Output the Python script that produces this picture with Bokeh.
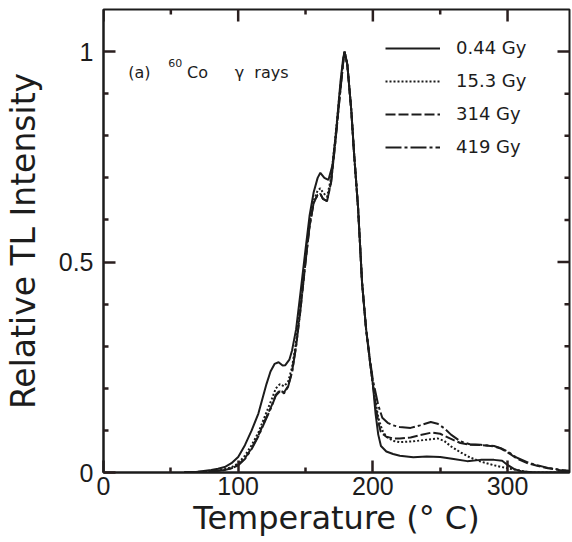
import numpy as np
from bokeh.plotting import figure
from bokeh.models import Range1d, FixedTicker, Legend, LegendItem, Label
from bokeh.embed import file_html
from bokeh.resources import INLINE

# ---------------- data ----------------
t_044 = [60, 70, 80, 85, 90, 95, 100, 105, 110, 115, 118, 121, 124, 127, 130, 133, 135,
         138, 140, 143, 146, 150, 153, 156, 159, 161, 164, 167, 170, 173, 176, 178, 179,
         181, 184, 186, 189, 192, 195, 198, 200, 202, 204, 206, 210, 215, 220, 230, 240,
         250, 260, 270, 280, 290, 296, 300, 305, 310, 320, 346]
i_044 = [0.0, 0.002, 0.006, 0.009, 0.013, 0.022, 0.037, 0.065, 0.10, 0.14, 0.175, 0.21,
         0.24, 0.258, 0.262, 0.254, 0.255, 0.268, 0.29, 0.34, 0.42, 0.53, 0.61, 0.665,
         0.70, 0.712, 0.70, 0.695, 0.73, 0.82, 0.93, 0.985, 1.0, 0.97, 0.86, 0.76, 0.63,
         0.45, 0.34, 0.26, 0.21, 0.14, 0.09, 0.063, 0.05, 0.044, 0.04, 0.036, 0.038, 0.037,
         0.032, 0.027, 0.03, 0.03, 0.028, 0.018, 0.008, 0.003, 0.0, 0.0]

t_153 = [60, 75, 85, 90, 95, 100, 105, 110, 115, 120, 125, 128, 131, 134, 137, 140, 143,
         146, 150, 153, 156, 159, 161, 163, 166, 169, 172, 175, 178, 179, 181, 184, 186,
         189, 192, 195, 198, 200, 202, 204, 207, 210, 215, 220, 230, 240, 248, 253, 258,
         265, 272, 280, 290, 300, 310, 315, 320, 346]
i_153 = [0.0, 0.002, 0.005, 0.008, 0.012, 0.022, 0.04, 0.065, 0.095, 0.135, 0.175, 0.2,
         0.21, 0.205, 0.215, 0.25, 0.31, 0.39, 0.51, 0.59, 0.645, 0.67, 0.675, 0.665,
         0.655, 0.70, 0.79, 0.89, 0.98, 1.0, 0.97, 0.86, 0.76, 0.63, 0.45, 0.34, 0.26,
         0.21, 0.17, 0.13, 0.10, 0.085, 0.075, 0.072, 0.074, 0.078, 0.081, 0.075, 0.062,
         0.048, 0.036, 0.026, 0.017, 0.01, 0.004, 0.001, 0.0, 0.0]

t_314 = [60, 75, 85, 90, 95, 100, 105, 110, 115, 120, 125, 128, 131, 134, 137, 140, 143,
         146, 150, 153, 156, 159, 161, 163, 166, 169, 172, 175, 178, 179, 181, 184, 186,
         189, 192, 195, 198, 200, 202, 204, 206, 210, 215, 220, 228, 235, 244, 250, 256,
         260, 265, 272, 280, 290, 295, 300, 307, 315, 322, 330, 340, 346]
i_314 = [0.0, 0.002, 0.004, 0.006, 0.01, 0.018, 0.034, 0.058, 0.088, 0.125, 0.16, 0.185,
         0.195, 0.19, 0.205, 0.24, 0.30, 0.38, 0.50, 0.585, 0.64, 0.66, 0.662, 0.65,
         0.645, 0.69, 0.78, 0.88, 0.975, 1.0, 0.97, 0.86, 0.76, 0.63, 0.45, 0.34, 0.26,
         0.21, 0.16, 0.12, 0.095, 0.085, 0.081, 0.081, 0.083, 0.089, 0.095, 0.092, 0.083,
         0.077, 0.07, 0.066, 0.065, 0.062, 0.057, 0.048, 0.033, 0.022, 0.016, 0.01, 0.005,
         0.003]

t_419 = [60, 75, 85, 90, 95, 100, 105, 110, 115, 120, 125, 128, 131, 134, 137, 140, 143,
         146, 150, 153, 156, 159, 161, 163, 166, 169, 172, 175, 178, 179, 181, 184, 186,
         189, 192, 195, 198, 200, 202, 204, 207, 211, 215, 220, 228, 235, 243, 248, 253,
         258, 265, 272, 280, 290, 295, 300, 307, 315, 322, 330, 340, 346]
i_419 = [0.0, 0.002, 0.004, 0.006, 0.01, 0.017, 0.032, 0.056, 0.086, 0.122, 0.158, 0.183,
         0.193, 0.188, 0.203, 0.238, 0.30, 0.38, 0.50, 0.585, 0.64, 0.66, 0.662, 0.65,
         0.645, 0.69, 0.78, 0.88, 0.975, 1.0, 0.97, 0.86, 0.76, 0.63, 0.45, 0.34, 0.265,
         0.22, 0.19, 0.16, 0.13, 0.118, 0.112, 0.108, 0.106, 0.112, 0.12, 0.116, 0.105,
         0.09, 0.074, 0.067, 0.066, 0.063, 0.058, 0.05, 0.035, 0.024, 0.017, 0.011, 0.006,
         0.004]

series_labels = ["0.44 Gy", "15.3 Gy", "314 Gy", "419 Gy"]
x_ticks = [0, 100, 200, 300]
x_minor = [50, 150, 250]
y_ticks = [0, 0.5, 1]
y_tick_labels = ["0", "0.5", "1"]
y_minor = [0.1, 0.2, 0.3, 0.4, 0.6, 0.7, 0.8, 0.9]
x_title = "Temperature (° C)"
y_title = "Relative TL Intensity"
X_MAX, Y_MAX = 346, 1.1

# ---------------- figure ----------------
INK = "#1c1c1c"
TICK = "#2a1f1f"
W, H = 572, 542
BL, BR, BT, BB = 100, 3, 9, 70
MAJ, MIN = 12, 5
p = figure(width=W, height=H, output_backend="svg", toolbar_location=None,
           x_range=Range1d(0, X_MAX), y_range=Range1d(0, Y_MAX),
           min_border_left=BL, min_border_right=BR, min_border_top=BT, min_border_bottom=BB)
p.xgrid.visible = False
p.ygrid.visible = False
p.outline_line_color = INK
p.outline_line_width = 2

for ax, ticks, minor in ((p.xaxis[0], x_ticks, x_minor), (p.yaxis[0], y_ticks, y_minor)):
    ax.ticker = FixedTicker(ticks=ticks, minor_ticks=minor)
    ax.axis_line_color = INK
    ax.axis_line_width = 2
    ax.major_tick_in = MAJ
    ax.major_tick_out = 0
    ax.minor_tick_in = MIN
    ax.minor_tick_out = 0
    ax.major_tick_line_color = TICK
    ax.major_tick_line_width = 2.5
    ax.minor_tick_line_color = TICK
    ax.minor_tick_line_width = 2.5
    ax.major_label_text_font = "Liberation Sans"
    ax.major_label_text_font_size = "25px"
    ax.major_label_text_color = INK
    ax.axis_label_text_font = "DejaVu Sans"
    ax.axis_label_text_font_style = "normal"
    ax.axis_label_text_color = INK
p.yaxis[0].major_label_overrides = {v: s for v, s in zip(y_ticks, y_tick_labels)}
p.xaxis[0].major_label_overrides = {v: str(v) for v in x_ticks}
p.xaxis[0].axis_label = x_title
p.yaxis[0].axis_label = y_title
p.xaxis[0].axis_label_text_font_size = "32px"
p.yaxis[0].axis_label_text_font_size = "33px"
p.xaxis[0].major_label_standoff = 4
p.yaxis[0].major_label_standoff = 10
p.xaxis[0].axis_label_standoff = 1
p.yaxis[0].axis_label_standoff = 13

# inward tick marks on the top and right edges, drawn as small filled bars
# (lengths in px converted to data units; centred on the frame edge, the outer half is clipped)
dx = X_MAX / (W - BL - BR)
dy = Y_MAX / (H - BT - BB)
for xs, L in ((x_ticks, MAJ), (x_minor, MIN)):
    xs = np.array(xs, float)
    p.rect(x=xs, y=Y_MAX, width=2.5, height=2 * L, width_units="screen", height_units="screen",
           fill_color=TICK, line_color=None)
for ys, L in ((y_ticks, MAJ), (y_minor, MIN)):
    ys = np.array(ys, float)
    p.rect(x=X_MAX, y=ys, width=2 * L, height=2.5, width_units="screen", height_units="screen",
           fill_color=TICK, line_color=None)

r1 = p.line(t_044, i_044, line_color=INK, line_width=2)
r2 = p.line(t_153, i_153, line_color=INK, line_width=2, line_dash="2 2")
r3 = p.line(t_314, i_314, line_color=INK, line_width=2, line_dash="10 3")
r4 = p.line(t_419, i_419, line_color=INK, line_width=2, line_dash="16 3 3 3")

legend = Legend(items=[LegendItem(label=lab, renderers=[r]) for lab, r in
                       zip(series_labels, [r1, r2, r3, r4])],
                location=(282, 315), padding=0, margin=0, spacing=12,
                glyph_width=55, glyph_height=20, label_height=20, label_standoff=16,
                label_text_font="DejaVu Sans", label_text_font_size="18px",
                label_text_color=INK, border_line_alpha=0, background_fill_alpha=0)
p.add_layout(legend)

ann_font = "DejaVu Sans"
for txt, x, y, size in [("(a)", 18.4, 0.95, "16px"), ("60", 48, 0.972, "11px"),
                        ("Co", 62, 0.95, "16px"), ("γ", 97.4, 0.95, "16px"),
                        ("rays", 112, 0.95, "16px")]:
    p.add_layout(Label(x=x, y=y, text=txt, text_font=ann_font, text_font_size=size,
                       text_color=INK, text_baseline="alphabetic"))

open("out.html", "w").write(file_html(p, INLINE))
